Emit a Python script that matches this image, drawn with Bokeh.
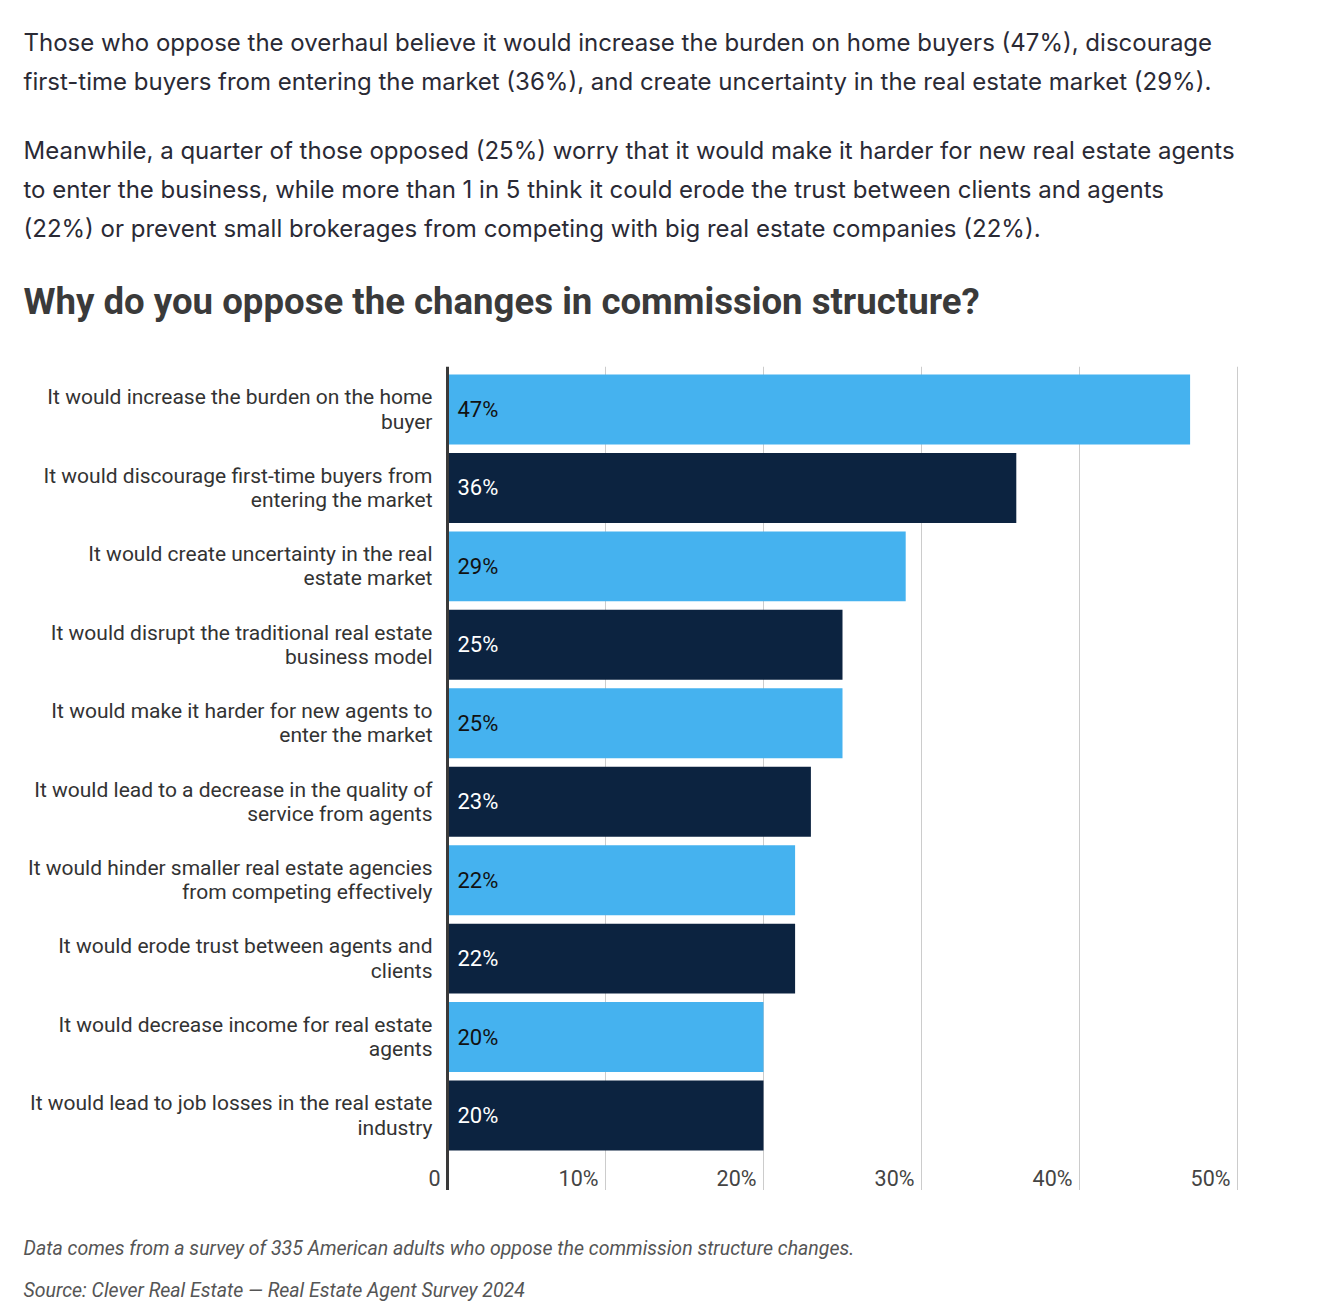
from bokeh.plotting import figure
from bokeh.models import Range1d, Label, Span, ColumnDataSource
from bokeh.layouts import column
from bokeh.core.properties import value
from bokeh.embed import file_html
from bokeh.resources import INLINE

# ---------------- data ----------------
categories = [
    "It would increase the burden on the home\nbuyer",
    "It would discourage first-time buyers from\nentering the market",
    "It would create uncertainty in the real\nestate market",
    "It would disrupt the traditional real estate\nbusiness model",
    "It would make it harder for new agents to\nenter the market",
    "It would lead to a decrease in the quality of\nservice from agents",
    "It would hinder smaller real estate agencies\nfrom competing effectively",
    "It would erode trust between agents and\nclients",
    "It would decrease income for real estate\nagents",
    "It would lead to job losses in the real estate\nindustry",
]
values = [47, 36, 29, 25, 25, 23, 22, 22, 20, 20]
x_ticks = [0, 10, 20, 30, 40, 50]
x_tick_labels = ["0", "10%", "20%", "30%", "40%", "50%"]

paragraph_lines = [
    "Those who oppose the overhaul believe it would increase the burden on home buyers (47%), discourage",
    "first-time buyers from entering the market (36%), and create uncertainty in the real estate market (29%).",
    "Meanwhile, a quarter of those opposed (25%) worry that it would make it harder for new real estate agents",
    "to enter the business, while more than 1 in 5 think it could erode the trust between clients and agents",
    "(22%) or prevent small brokerages from competing with big real estate companies (22%).",
]
title_text = "Why do you oppose the changes in commission structure?"
note_text = "Data comes from a survey of 335 American adults who oppose the commission structure changes."
source_text = "Source: Clever Real Estate \u2014 Real Estate Agent Survey 2024"

LIGHT = "#45B2EF"
DARK = "#0C2340"
PAGE_W = 1342

# ---------------- header (paragraphs + title) ----------------
HEAD_H = 366
head = figure(width=PAGE_W, height=HEAD_H, x_range=Range1d(0, PAGE_W), y_range=Range1d(HEAD_H, 0),
              min_border=0, x_axis_location=None, y_axis_location=None,
              output_backend="svg", toolbar_location=None)
head.outline_line_color = None
head.xgrid.visible = False
head.ygrid.visible = False

para_baselines = [42, 81, 150, 189, 228]
for line, b in zip(paragraph_lines, para_baselines):
    head.add_layout(Label(x=23, y=b, text=line, text_font="Inter", text_font_size="24px",
                          text_color="#2A2A35", text_align="left", text_baseline="alphabetic"))
head.add_layout(Label(x=23, y=301, text=title_text, text_font="Roboto", text_font_size="36.6px",
                      text_font_style="bold", text_color="#3A3A3A", text_align="left",
                      text_baseline="alphabetic"))

# ---------------- chart ----------------
CH_H = 824
PX_PER_PCT = 15.8
X0 = 447
chart = figure(width=PAGE_W, height=CH_H,
               x_range=Range1d(-X0 / PX_PER_PCT, (PAGE_W - X0) / PX_PER_PCT),
               y_range=Range1d(9.956, -0.548),
               min_border=0, x_axis_location=None, y_axis_location=None,
               output_backend="svg", toolbar_location=None)
chart.outline_line_color = None
chart.xgrid.visible = False
chart.ygrid.visible = False

for t in x_ticks[1:]:
    chart.add_layout(Span(location=t, dimension="height", line_color="#CCCCCC",
                          line_width=1, level="underlay"))

n = len(categories)
idx = list(range(n))
src = ColumnDataSource(dict(
    y=idx, v=values, cat=categories,
    c=[LIGHT if i % 2 == 0 else DARK for i in idx],
    lc=["#111111" if i % 2 == 0 else "#FFFFFF" for i in idx],
    t=[f"{v}%" for v in values],
))
chart.hbar(y="y", left=0, right="v", height=0.892, fill_color="c", line_color=None, source=src)
chart.text(x=0, y="y", text="t", text_color="lc", x_offset=10, text_align="left",
           text_baseline="middle", text_font=value("Roboto"), text_font_size="22px", source=src)
chart.text(x=0, y="y", text="cat", text_color="#333333", x_offset=-15, text_align="right",
           text_baseline="middle", text_font=value("Roboto"), text_font_size="21px",
           text_line_height=1.01, source=src)

tick_src = ColumnDataSource(dict(x=x_ticks, t=x_tick_labels, y=[9.803] * len(x_ticks)))
chart.text(x="x", y="y", text="t", x_offset=-7, text_align="right", text_baseline="middle",
           text_font=value("Roboto"), text_font_size="21.5px", text_color="#444444",
           source=tick_src)

chart.add_layout(Span(location=0, dimension="height", line_color="#3A3A3A", line_width=3,
                      level="overlay"))

# ---------------- footer ----------------
FOOT_TOP = HEAD_H + CH_H
FOOT_H = 1312 - FOOT_TOP
foot = figure(width=PAGE_W, height=FOOT_H, x_range=Range1d(0, PAGE_W),
              y_range=Range1d(FOOT_TOP + FOOT_H, FOOT_TOP),
              min_border=0, x_axis_location=None, y_axis_location=None,
              output_backend="svg", toolbar_location=None)
foot.outline_line_color = None
foot.xgrid.visible = False
foot.ygrid.visible = False
for txt, b in [(note_text, 1248), (source_text, 1290)]:
    foot.add_layout(Label(x=23, y=b, text=txt, text_font="Roboto", text_font_size="19.5px",
                          text_font_style="italic", text_color="#555555", text_align="left",
                          text_baseline="alphabetic"))

layout = column(head, chart, foot, spacing=0)
open("out.html", "w").write(file_html(layout, INLINE))
